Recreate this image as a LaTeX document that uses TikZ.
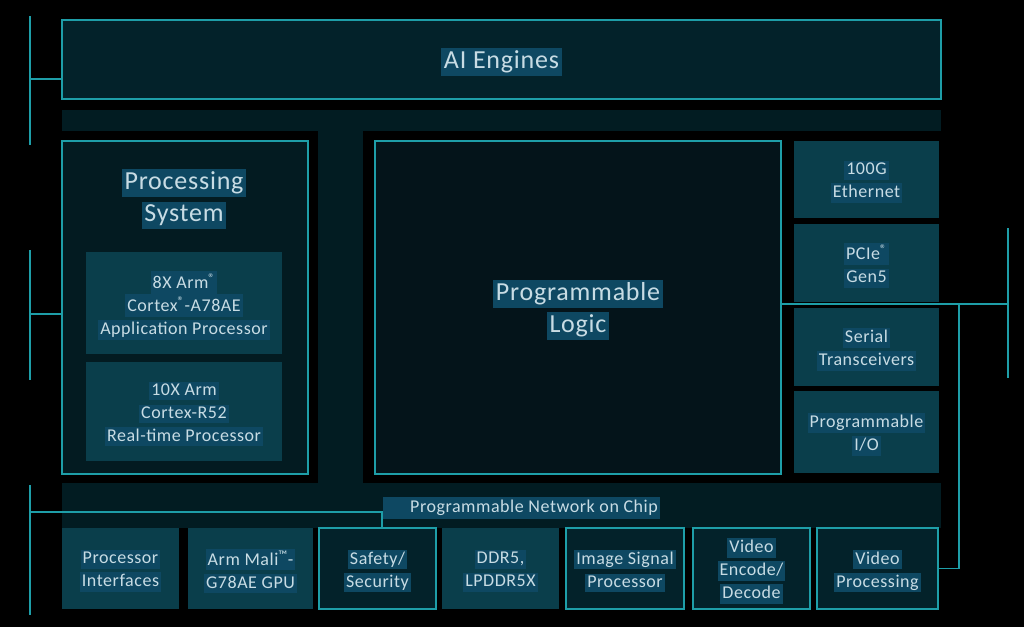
\documentclass[tikz,border=0pt]{standalone}
\usepackage{fontspec}
\setmainfont{Carlito}[LetterSpace=3]
\definecolor{lineteal}{HTML}{1E9EA8}
\definecolor{boxfill}{HTML}{0A3E4B}
\definecolor{hlc}{HTML}{0E4862}
\definecolor{txt}{HTML}{C8DCE4}
\definecolor{aiefill}{HTML}{03222A}
\definecolor{psfill}{HTML}{031B21}
\definecolor{plfill}{HTML}{04141A}
\definecolor{obfill}{HTML}{03222A}
\definecolor{bandc}{HTML}{021C22}
\newcommand{\hlt}[1]{{\setlength{\fboxsep}{0.11em}\colorbox{hlc}{\vphantom{Ag}#1}}}
\begin{document}
\begin{tikzpicture}[x=1pt,y=-1pt,
  every node/.style={text=txt, align=center, inner sep=0pt},
  every label/.style={yshift=-2.5pt},
  small/.style={font=\fontsize{18}{23}\selectfont},
  big/.style={font=\fontsize{26}{32}\selectfont},
  outbox/.style={draw=lineteal, line width=1.6pt},
  filledbox/.style={fill=boxfill},
  conn/.style={draw=lineteal, line width=1.6pt}]
\useasboundingbox (0,0) rectangle (1024,627);
\fill[black] (0,0) rectangle (1024,627);
% background bands
\fill[bandc] (62,110) rectangle (941,528);
\fill[black] (62,131) rectangle (318,483);
\fill[black] (363,131) rectangle (941,483);

% AI Engines
\node[outbox, fill=aiefill, minimum width=879, minimum height=79,
  label={[big]center:{\hlt{AI Engines}}}] (aie) at (501.5,59.5) {};

% Processing system
\node[outbox, fill=psfill, minimum width=246, minimum height=333] (ps) at (185,307.5) {};
\node[big] (pstitle) at (184,199) {\hlt{Processing}\\\hlt{System}};
\node[filledbox, minimum width=196, minimum height=102,
  label={[small]center:{\hlt{8X Arm\textsuperscript{®}}\\\hlt{Cortex\textsuperscript{®}-A78AE}\\\hlt{Application Processor}}}] (a78) at (184,303) {};
\node[filledbox, minimum width=196, minimum height=99,
  label={[small]center:{\hlt{10X Arm}\\\hlt{Cortex-R52}\\\hlt{Real-time Processor}}}] (r52) at (184,411.5) {};

% Programmable logic
\node[outbox, fill=plfill, minimum width=406, minimum height=333,
  label={[big]center:{\hlt{Programmable}\\\hlt{Logic}}}] (pl) at (578,307.5) {};

% Right column
\node[filledbox, minimum width=145, minimum height=77,
  label={[small]center:{\hlt{100G}\\\hlt{Ethernet}}}] (eth) at (866.5,179.5) {};
\node[filledbox, minimum width=145, minimum height=78,
  label={[small]center:{\hlt{PCIe\textsuperscript{®}}\\\hlt{Gen5}}}] (pcie) at (866.5,263) {};
\node[filledbox, minimum width=145, minimum height=78,
  label={[small]center:{\hlt{Serial}\\\hlt{Transceivers}}}] (serdes) at (866.5,347) {};
\node[filledbox, minimum width=145, minimum height=82,
  label={[small]center:{\hlt{Programmable}\\\hlt{I/O}}}] (pio) at (866.5,432) {};

% NoC label
\node[small, fill=hlc, anchor=west, minimum height=22] (noc) at (383,507.5) {\hspace*{27pt}Programmable Network on Chip\hspace*{2pt}};

% Bottom row
\node[filledbox, minimum width=117, minimum height=81,
  label={[small]center:{\hlt{Processor}\\\hlt{Interfaces}}}] (pif) at (120.5,568.5) {};
\node[filledbox, minimum width=125, minimum height=81,
  label={[small]center:{\hlt{Arm Mali\textsuperscript{™}-}\\\hlt{G78AE GPU}}}] (gpu) at (250.5,568.5) {};
\node[outbox, fill=obfill, minimum width=117, minimum height=81,
  label={[small]center:{\hlt{Safety/}\\\hlt{Security}}}] (saf) at (377.5,568.5) {};
\node[filledbox, minimum width=117, minimum height=81,
  label={[small]center:{\hlt{DDR5,}\\\hlt{LPDDR5X}}}] (ddr) at (500.5,568.5) {};
\node[outbox, fill=obfill, minimum width=118, minimum height=81,
  label={[small]center:{\hlt{Image Signal}\\\hlt{Processor}}}] (isp) at (625,568.5) {};
\node[outbox, fill=obfill, minimum width=117, minimum height=81,
  label={[small]center:{\hlt{Video}\\\hlt{Encode/}\\\hlt{Decode}}}] (ved) at (751.5,568.5) {};
\node[outbox, fill=obfill, minimum width=121, minimum height=81,
  label={[small]center:{\hlt{Video}\\\hlt{Processing}}}] (vp) at (877.5,568.5) {};

% Connectors
\coordinate (l1t) at (30,16);  \coordinate (l1b) at (30,145); \coordinate (j1) at (30,79);
\coordinate (l2t) at (30,250); \coordinate (l2b) at (30,380); \coordinate (j2) at (30,314);
\coordinate (l3t) at (30,485); \coordinate (l3b) at (30,615); \coordinate (j3) at (30,512);
\coordinate (k3) at (382,512);
\coordinate (r1t) at (1008,228); \coordinate (r1b) at (1008,378); \coordinate (j4) at (1008,304);
\coordinate (k4) at (959,304);
\draw[conn] (l1t) -- (l1b);
\draw[conn] (j1) -- (j1 -| aie.west);
\draw[conn] (l2t) -- (l2b);
\draw[conn] (j2) -- (j2 -| ps.west);
\draw[conn] (l3t) -- (l3b);
\draw[conn] (j3) -- (k3) -- (k3 |- saf.north);
\draw[conn] (r1t) -- (r1b);
\draw[conn] (pl.east |- j4) -- (j4);
\draw[conn] (k4) -- (k4 |- vp.east) -- (vp.east);
\end{tikzpicture}
\end{document}
